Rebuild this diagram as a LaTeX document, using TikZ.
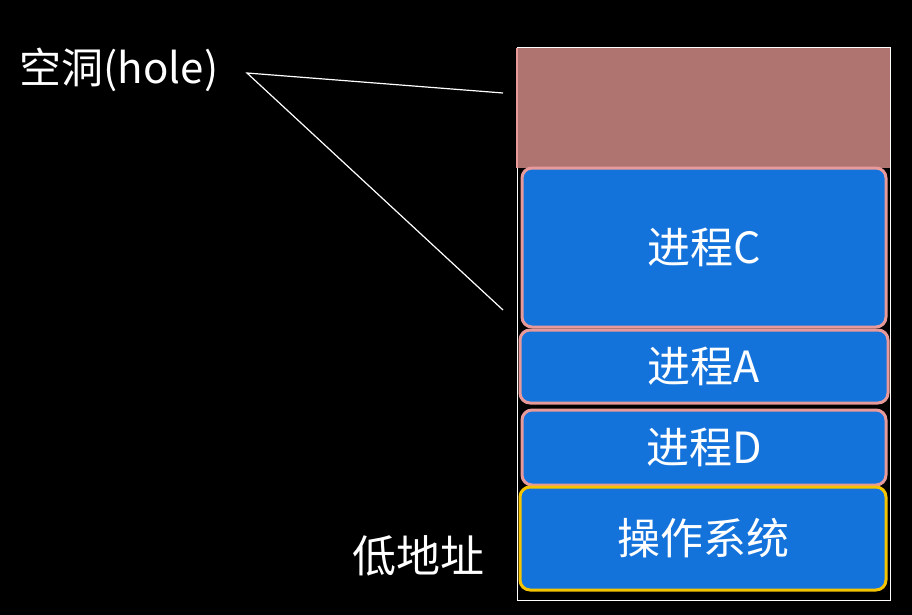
\documentclass[tikz,border=0pt]{standalone}
\usepackage{fontspec}
\newfontfamily\cjk{Noto Sans CJK SC}
\definecolor{holefill}{HTML}{AF7370}
\definecolor{procblue}{HTML}{1473DB}
\definecolor{pinkb}{HTML}{E89A9A}
\definecolor{osy}{HTML}{F5C400}
\tikzset{
 blk/.style={draw=pinkb, line width=3pt, fill=procblue, rounded corners=10pt, text=white, font=\cjk\fontsize{43}{48}\selectfont, inner sep=0pt},
 lbl/.style={text=white, font=\cjk\fontsize{42}{48}\selectfont, inner sep=0pt},
}
\begin{document}
\begin{tikzpicture}[x=1pt,y=-1pt]
\fill[black] (0,0) rectangle (912,615);
\useasboundingbox (0,0) rectangle (912,615);
\draw[white, line width=1pt] (517,48) rectangle (890,600);
\fill[holefill] (517,48) rectangle (890,168);
\draw[pinkb, line width=1.5pt] (517,48) -- (517,168);
\node[blk, minimum width=364pt, minimum height=159pt] (c) at (704,247.5) {进程C};
\node[blk, minimum width=368pt, minimum height=73pt] (a) at (704,366.5) {进程A};
\node[blk, minimum width=364pt, minimum height=75pt] (d) at (704,447.5) {进程D};
\node[blk, draw=osy, minimum width=366pt, minimum height=103pt] (os) at (703,538.5) {操作系统};
\node[lbl] (hole) at (119,70) {空洞(hole)};
\node[lbl, font=\cjk\fontsize{44}{48}\selectfont] (low) at (418,556) {低地址};
\coordinate (h0) at (247,73);
\coordinate (h1) at (503,93);
\coordinate (h2) at (503,310);
\draw[white, line width=1.2pt] (h1) -- (h0) -- (h2);
\end{tikzpicture}
\end{document}
